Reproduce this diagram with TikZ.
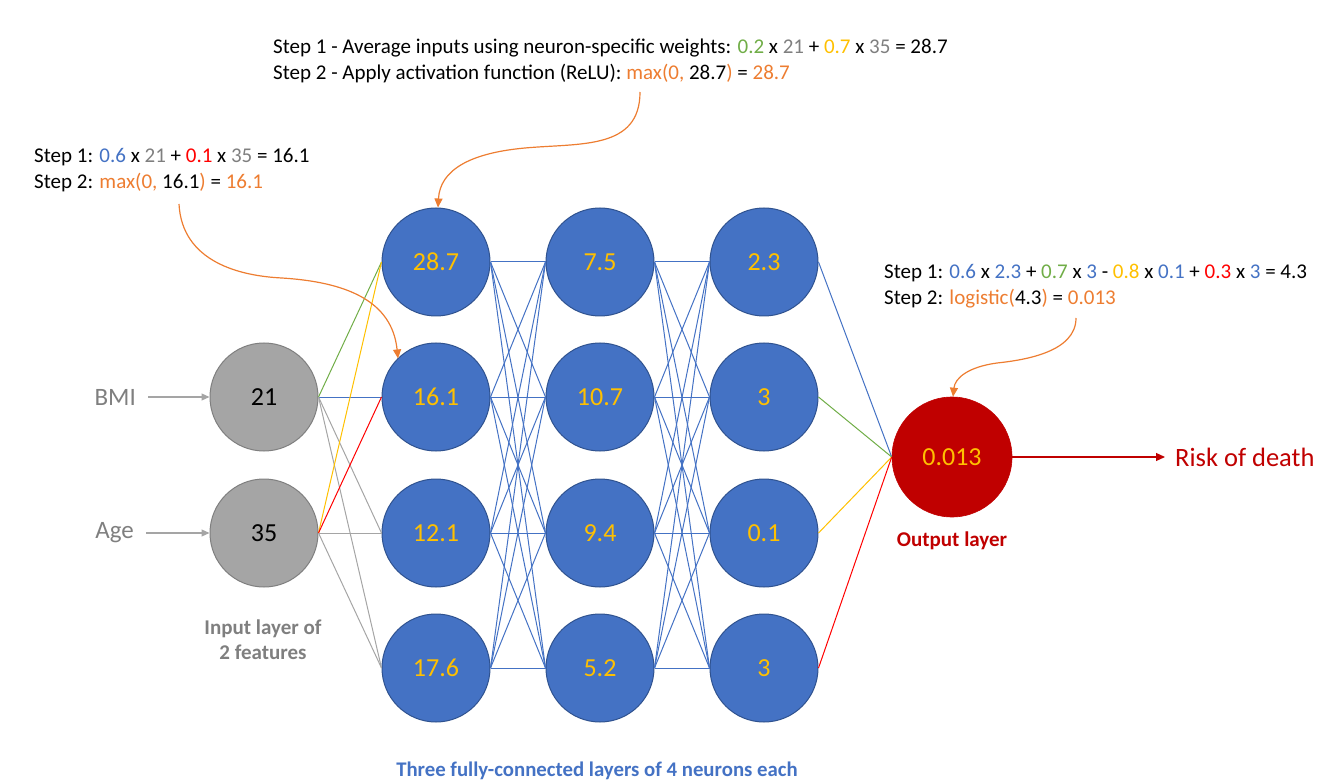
\documentclass[tikz,border=0pt]{standalone}
\usepackage{fontspec}
\setmainfont{Carlito}
\usetikzlibrary{arrows.meta}
\definecolor{nblue}{HTML}{4472C4}
\definecolor{nbord}{HTML}{2F528F}
\definecolor{nyel}{HTML}{FFC000}
\definecolor{ngray}{HTML}{A5A5A5}
\definecolor{ngbord}{HTML}{7F7F7F}
\definecolor{ngtext}{HTML}{7F7F7F}
\definecolor{nred}{HTML}{C00000}
\definecolor{nbred}{HTML}{FF0000}
\definecolor{norange}{HTML}{ED7D31}
\definecolor{ngreen}{HTML}{70AD47}
\newcommand{\cB}[1]{\textcolor{nblue}{#1}}
\newcommand{\cG}[1]{\textcolor{ngreen}{#1}}
\newcommand{\cY}[1]{\textcolor{nyel}{#1}}
\newcommand{\cR}[1]{\textcolor{nbred}{#1}}
\newcommand{\cO}[1]{\textcolor{norange}{#1}}
\newcommand{\cK}[1]{\textcolor{ngtext}{#1}}
\tikzset{
  neuron/.style={circle, minimum size=108pt, inner sep=0pt, fill=nblue, draw=nbord, line width=1pt,
     text=nyel, font=\fontsize{26}{30}\selectfont},
  inneuron/.style={circle, minimum size=108pt, inner sep=0pt, fill=ngray, draw=ngbord, line width=1pt,
     text=black, font=\fontsize{26}{30}\selectfont},
  outneuron/.style={circle, minimum size=120pt, inner sep=0pt, fill=nred, draw=nred, line width=0.6pt,
     text=nyel, font=\fontsize{26}{30}\selectfont},
  steptext/.style={anchor=west, align=left, inner sep=0pt, font=\fontsize{21}{26}\selectfont},
  wire/.style={line width=1pt},
  callout/.style={draw=norange, line width=1.2pt, -{Triangle[length=9pt,width=8pt]}},
  inarrow/.style={draw=ngray, line width=1.2pt, -{Triangle[length=8pt,width=7pt]}},
}
\begin{document}
\begin{tikzpicture}[x=1pt, y=-1pt]
\useasboundingbox (0,0) rectangle (1330,783);

% input neurons
\node[inneuron] (i1) at (264,397) {21};
\node[inneuron] (i2) at (264,533) {35};

% hidden layers
\foreach \n/\y/\v in {1/262/28.7, 2/397/16.1, 3/533/12.1, 4/668/17.6}
  \node[neuron] (a\n) at (436,\y) {\v};
\foreach \n/\y/\v in {1/262/7.5, 2/397/10.7, 3/533/9.4, 4/668/5.2}
  \node[neuron] (b\n) at (600,\y) {\v};
\foreach \n/\y/\v in {1/262/2.3, 2/397/3, 3/533/0.1, 4/668/3}
  \node[neuron] (c\n) at (764,\y) {\v};

\node[outneuron] (o) at (952,457) {0.013};

% connectors
\draw[wire, ngreen] (i1.east) -- (a1.west);
\draw[wire, nblue] (i1.east) -- (a2.west);
\draw[wire, ngray] (i1.east) -- (a3.west);
\draw[wire, ngray] (i1.east) -- (a4.west);
\draw[wire, nyel] (i2.east) -- (a1.west);
\draw[wire, nbred] (i2.east) -- (a2.west);
\draw[wire, ngray] (i2.east) -- (a3.west);
\draw[wire, ngray] (i2.east) -- (a4.west);
\foreach \i in {1,...,4}
  \foreach \j in {1,...,4}
  {
    \draw[wire, nblue] (a\i.east) -- (b\j.west);
    \draw[wire, nblue] (b\i.east) -- (c\j.west);
  }
\draw[wire, nblue] (c1.east) -- (o.west);
\draw[wire, ngreen] (c2.east) -- (o.west);
\draw[wire, nyel] (c3.east) -- (o.west);
\draw[wire, nbred] (c4.east) -- (o.west);

% input labels
\node[text=ngtext, font=\fontsize{25}{30}\selectfont, anchor=east, inner sep=0pt] (bmi) at (136,397) {BMI};
\node[text=ngtext, font=\fontsize{25}{30}\selectfont, anchor=east, inner sep=0pt] (age) at (134,533) {Age};
\coordinate (bmis) at (148,397);
\coordinate (ages) at (146,533);
\draw[inarrow] (bmis) -- (i1.west);
\draw[inarrow] (ages) -- (i2.west);

% output
\node[text=nred, font=\fontsize{26.5}{30}\selectfont, anchor=west, inner sep=0pt] (risk) at (1175,457) {Risk of death};
\draw[draw=nred, line width=1.2pt, -{Triangle[length=9pt,width=8pt]}] (o.east) -- (risk.west -| 1165,0) ;

% layer labels
\node[text=ngtext, font=\fontsize{21}{25}\bfseries\selectfont, align=center] (inlab) at (263,640) {Input layer of\\2 features};
\node[text=nred, font=\fontsize{21}{24}\bfseries\selectfont] (outlab) at (952,541) {Output layer};
\node[text=nblue, font=\fontsize{20.8}{24}\bfseries\selectfont] (hidlab) at (597,771) {Three fully-connected layers of 4 neurons each};

% step texts
\node[steptext] (top) at (273,61) {Step 1 - Average inputs using neuron-specific weights: \cG{0.2} x \cK{21} + \cY{0.7} x \cK{35} = 28.7\\
Step 2 - Apply activation function (ReLU): \cO{max(0,} 28.7\cO{)} = \cO{28.7}};
\node[steptext] (left) at (34,170.5) {Step 1: \cB{0.6} x \cK{21} + \cR{0.1} x \cK{35} = 16.1\\
Step 2: \cO{max(0,} 16.1\cO{)} = \cO{16.1}};
\node[steptext] (right) at (884,286.5) {Step 1: \cB{0.6} x \cB{2.3} + \cG{0.7} x \cB{3} - \cY{0.8} x \cB{0.1} + \cR{0.3} x \cB{3} = 4.3\\
Step 2: \cO{logistic(}4.3\cO{)} = \cO{0.013}};

% callout arrows
\coordinate (ts) at (640,92);
\coordinate (ls) at (179,204);
\coordinate (rs) at (1076,318);
\draw[callout] (ts) .. controls (640,150) and (580,143) .. (525,148) .. controls (470,153) and (440,170) .. (a1.north -| 438,0);
\draw[callout] (ls) .. controls (182,262) and (240,276) .. (282,278) .. controls (345,282) and (392,300) .. (a2.north west -| 398,0);
\draw[callout] (rs) .. controls (1076,352) and (1025,360) .. (997,363) .. controls (968,367) and (955,378) .. (o.north -| 953,0);
\end{tikzpicture}
\end{document}
